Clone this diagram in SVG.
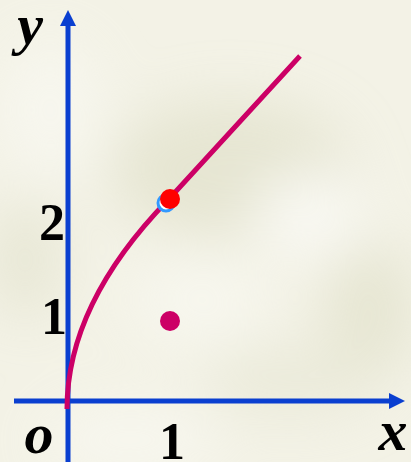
<svg xmlns="http://www.w3.org/2000/svg" width="411" height="462" viewBox="0 0 411 462">
<defs>
<style>
.ax{stroke:#0a3fd0;stroke-width:5;fill:none}
.ah{fill:#0a3fd0}
.lbl{font-family:"Liberation Serif","Times New Roman",serif;font-weight:bold;fill:#000;text-anchor:middle}
.it{font-style:italic;font-size:58px}
.num{font-size:52px}
</style>
<filter id="blur" x="-50%" y="-50%" width="200%" height="200%"><feGaussianBlur stdDeviation="28"/></filter>
</defs>
<g id="background">
<rect width="411" height="462" fill="#f3f2e6"/>
<g filter="url(#blur)" opacity="0.55">
<ellipse cx="50" cy="110" rx="50" ry="70" fill="#fbfbf6"/>
<ellipse cx="230" cy="170" rx="120" ry="70" fill="#dcdcc2"/>
<ellipse cx="310" cy="215" rx="55" ry="40" fill="#ffffff"/>
<ellipse cx="25" cy="260" rx="35" ry="60" fill="#dedec6"/>
<ellipse cx="370" cy="310" rx="45" ry="70" fill="#dcdcc2"/>
<ellipse cx="200" cy="300" rx="70" ry="50" fill="#fafaf4"/>
<ellipse cx="130" cy="440" rx="90" ry="30" fill="#fcfcf8"/>
<ellipse cx="290" cy="380" rx="90" ry="35" fill="#e4e4d0"/>
</g>
</g>
<g id="axes">
<line class="ax" x1="68" y1="462" x2="68" y2="24"/>
<polygon class="ah" points="68,10 60,26 76,26"/>
<line class="ax" x1="14" y1="401" x2="390" y2="401"/>
<polygon class="ah" points="405,401 389,393 389,409"/>
</g>
<g id="curve">
<path d="M67,409 Q67,304 168,200 L300,56" fill="none" stroke="#cc0066" stroke-width="5"/>
</g>
<g id="points">
<circle cx="166" cy="203" r="8" fill="#ffffff" stroke="#3399ff" stroke-width="3"/>
<circle cx="170" cy="199" r="10" fill="#ff0000"/>
<circle cx="170" cy="321" r="10" fill="#cc0066"/>
</g>
<g id="labels">
<text class="lbl it" x="30" y="44">y</text>
<text class="lbl num" x="52" y="240">2</text>
<text class="lbl num" x="54" y="334">1</text>
<text class="lbl it" x="39" y="453">o</text>
<text class="lbl num" x="172" y="459">1</text>
<text class="lbl it" x="393" y="450">x</text>
</g>
</svg>
